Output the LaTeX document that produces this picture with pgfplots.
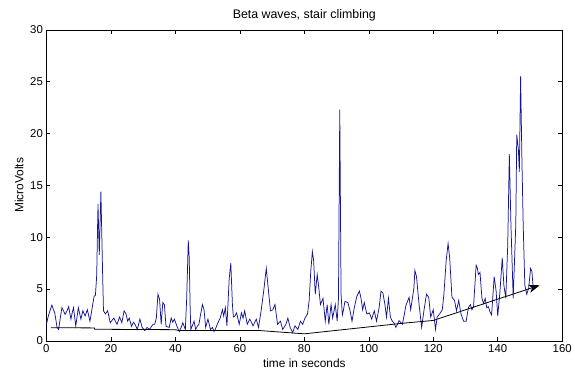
\documentclass[border=0pt]{standalone}
\usepackage{fontspec}
\setmainfont{Liberation Sans}
\usepackage{pgfplots}
\pgfplotsset{compat=1.18}
\usetikzlibrary{arrows.meta}

\definecolor{trace}{RGB}{20,20,150}

\begin{document}
\begin{tikzpicture}
\begin{axis}[
  scale only axis,
  width=519bp, height=313bp,
  xmin=0, xmax=160, ymin=0, ymax=30,
  xtick={0,20,...,160}, ytick={0,5,...,30},
  tick align=inside, major tick length=4bp,
  xtick pos=both, ytick pos=both,
  xticklabel pos=lower, yticklabel pos=left,
  font=\fontsize{11.5}{13}\selectfont,
  /pgf/number format/assume math mode=true,
  axis line style={line width=0.6bp},
  every tick/.style={black, line width=0.5bp},
  title={Beta waves, stair climbing},
  title style={font=\fontsize{12.5}{14}\selectfont, yshift=-1bp},
  xlabel={time in seconds},
  ylabel={MicroVolts},
  label style={font=\fontsize{12}{14}\selectfont},
  clip=false,
]
% EEG beta-band amplitude
\addplot[trace, line width=0.75bp] coordinates {
(0.0,1.6) (0.6,2.4) (1.2,3.0) (1.7,3.45) (2.2,3.0) (2.6,2.7) (3.3,1.3) (3.8,1.1)
(4.3,2.2) (4.8,3.2) (5.3,2.9) (5.8,2.55) (6.4,2.9) (6.9,3.3) (7.6,2.1) (8.0,2.7)
(8.4,3.2) (9.1,1.45) (9.5,2.3) (9.9,3.2) (10.7,2.1) (11.3,2.9) (12.0,2.4) (12.7,3.0)
(13.5,1.9) (14.0,2.8) (14.4,3.6) (14.8,4.3) (15.2,4.4) (15.6,6.3) (16.0,13.2) (16.4,8.3)
(16.9,14.4) (17.4,7.0) (17.7,2.9) (18.3,2.6) (19.0,2.9) (19.8,1.75) (20.4,2.0) (20.9,2.2)
(21.9,1.6) (22.7,2.3) (23.4,1.75) (24.1,2.9) (24.7,2.6) (25.2,1.9) (25.7,2.2) (26.4,1.4)
(27.0,1.8) (27.5,1.6) (28.2,1.1) (29.0,2.1) (29.7,1.3) (30.5,1.0) (31.2,1.3) (32.0,1.1)
(32.6,1.4) (33.1,1.6) (33.6,1.6) (34.1,2.2) (34.6,4.5) (35.1,4.0) (35.6,1.6) (36.1,3.7)
(36.6,3.5) (37.1,1.4) (38.1,1.3) (38.7,2.2) (39.2,1.8) (39.7,2.1) (40.5,1.4) (41.2,0.9)
(41.8,1.3) (42.3,1.75) (43.1,1.1) (43.5,4.0) (43.8,7.3) (44.0,9.7) (44.3,8.0) (44.6,3.0)
(44.8,1.1) (45.3,1.5) (45.8,1.9) (46.3,1.1) (46.8,1.4) (47.3,1.6) (47.8,2.5) (48.4,3.5)
(48.9,3.0) (49.4,1.3) (50.1,2.1) (50.9,1.1) (51.5,1.3) (52.0,0.9) (52.5,1.2) (53.0,1.6)
(53.9,2.2) (54.6,3.0) (55.0,2.4) (55.5,3.2) (56.0,1.45) (56.7,6.0) (57.2,7.5) (57.7,3.5)
(58.0,2.3) (58.5,2.4) (59.0,2.7) (59.8,1.6) (60.5,2.7) (61.0,2.2) (61.5,2.9) (62.3,1.6)
(63.1,2.1) (63.6,1.8) (64.1,1.45) (65.1,2.1) (65.8,1.3) (66.6,2.9) (67.4,4.8) (68.2,7.0)
(68.8,5.1) (69.5,2.9) (70.2,3.0) (70.9,3.5) (71.7,1.6) (72.6,1.9) (73.3,1.1) (74.3,1.6)
(74.9,2.2) (75.6,1.3) (76.4,0.8) (77.1,1.45) (78.0,1.1) (78.8,1.9) (79.5,1.6) (80.2,2.2)
(81.0,2.6) (81.5,3.9) (82.0,6.7) (82.5,8.6) (82.9,7.7) (83.4,4.5) (84.0,6.4) (84.5,5.1)
(85.0,3.5) (85.8,4.1) (86.5,1.9) (87.1,3.5) (87.6,1.6) (88.3,3.5) (88.8,2.2) (89.6,3.5)
(90.2,1.9) (90.6,4.1) (91.0,22.3) (91.4,4.5) (91.8,2.5) (92.1,2.9) (92.6,3.8) (93.5,3.7)
(94.2,2.9) (94.8,1.9) (95.5,3.2) (96.3,4.3) (97.1,4.8) (97.6,4.1) (98.1,3.0) (98.6,3.7)
(99.4,2.6) (100.2,2.7) (100.9,2.1) (101.7,2.9) (102.4,1.9) (103.2,3.2) (103.8,4.8) (104.4,4.6)
(105.0,3.5) (105.5,2.3) (106.1,4.1) (106.7,2.3) (107.3,1.9) (107.8,1.75) (108.4,1.3) (108.9,1.6)
(109.4,1.95) (110.4,1.6) (111.0,2.5) (111.5,3.4) (112.5,4.2) (113.0,3.0) (114.0,5.1) (114.3,6.8)
(114.8,6.2) (115.6,3.5) (116.4,1.3) (117.1,2.9) (117.9,4.5) (118.6,4.2) (119.2,2.3) (120.0,3.0)
(120.7,1.1) (121.2,2.3) (122.0,2.6) (122.8,3.0) (123.3,4.5) (124.0,7.7) (124.6,9.4) (125.1,8.0)
(125.8,4.2) (126.6,3.9) (127.2,2.9) (127.9,3.9) (128.6,2.6) (129.4,1.9) (130.2,1.9) (130.9,3.2)
(131.5,3.5) (132.0,3.0) (132.5,3.3) (133.3,7.3) (133.7,7.0) (134.0,6.4) (134.5,6.6) (135.1,4.1)
(135.6,3.6) (136.1,4.1) (136.6,3.2) (137.1,3.3) (137.6,2.8) (138.1,2.5) (138.9,6.2) (139.5,4.8)
(140.0,2.4) (140.7,4.8) (141.4,8.0) (141.9,5.4) (142.5,4.1) (143.1,9.2) (143.6,18.0) (144.1,11.2)
(144.8,4.1) (145.6,11.2) (145.9,19.9) (146.4,18.5) (146.7,16.3) (147.1,25.5) (147.5,17.5) (147.9,11.2)
(148.4,5.4) (149.0,4.5) (149.6,5.1) (150.2,7.0) (150.6,6.7) (151.0,5.1)
};
% trend of the baseline
\addplot[black, line width=0.8bp, -{Stealth[length=11bp,width=8bp,inset=3bp]}] coordinates {
(1.4,1.27) (14.9,1.25) (15.0,1.12) (40,1.08) (41,1.0) (66,1.0) (80,0.68)
(110.5,1.7) (120,1.97) (153,5.36)
};
\end{axis}
\path ([shift={(-46.7bp,-38bp)}]current axis.south west)
  rectangle ([shift={(9bp,30bp)}]current axis.north east);
\end{tikzpicture}
\end{document}
